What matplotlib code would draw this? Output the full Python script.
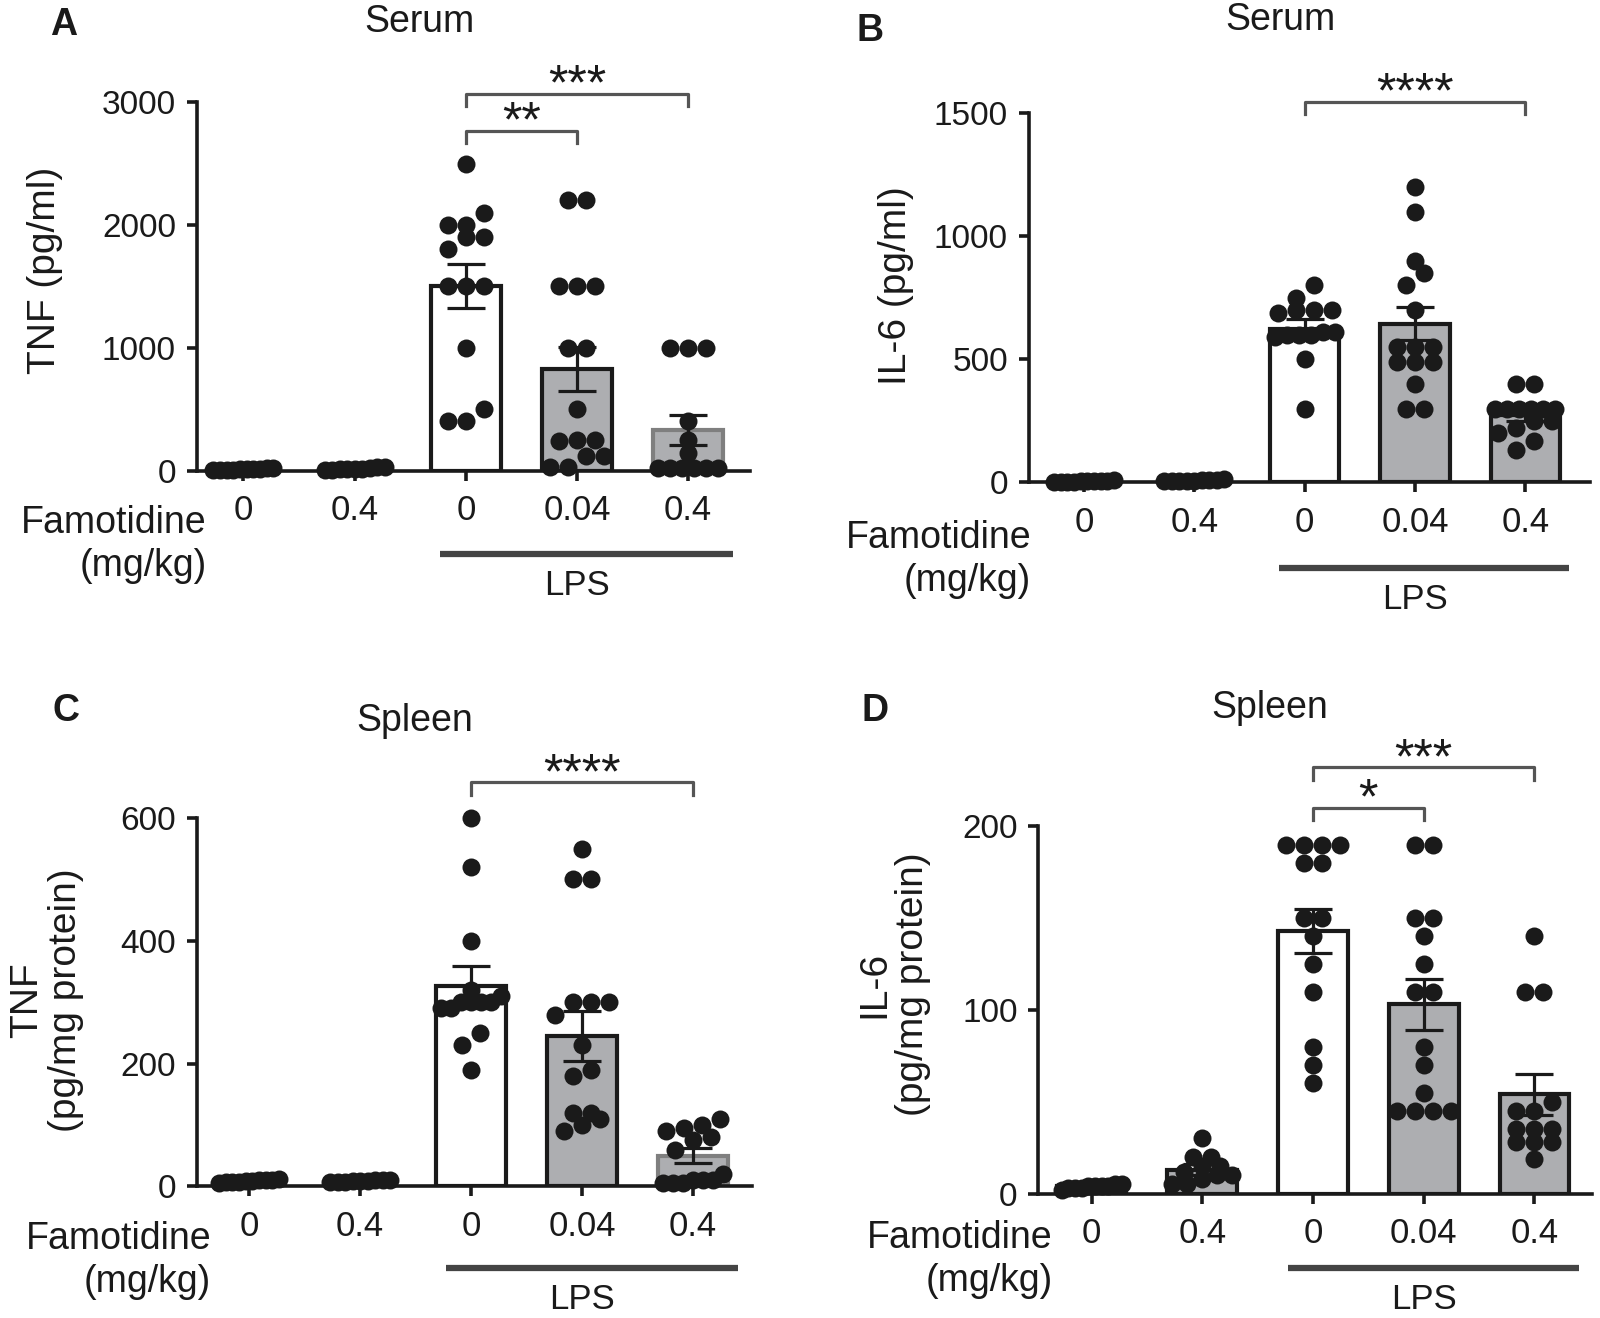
import numpy as np
import matplotlib.pyplot as plt
from matplotlib import transforms

plt.rcParams['font.family'] = ['Liberation Sans', 'DejaVu Sans']

dose_labels = ['0', '0.4', '0', '0.04', '0.4']

# A - serum TNF (pg/ml)
tnf_serum_pts = [
    [10, 5, 15, 8, 20, 12, 5, 10, 18, 6],
    [15, 10, 25, 5, 30, 12, 8, 20, 10],
    [2500, 2100, 2000, 2000, 1900, 1900, 1800, 1500, 1500, 1500, 1000, 500, 400, 400],
    [2200, 2200, 1500, 1500, 1500, 1000, 1000, 500, 250, 250, 240, 120, 120, 30, 30],
    [1000, 1000, 1000, 400, 250, 140, 20, 20, 20, 20, 20, 20],
]
tnf_serum_mean = [12, 15, 1500, 825, 330]
tnf_serum_sem = [2, 3, 180, 178, 122]

# B - serum IL-6 (pg/ml)
il6_serum_pts = [
    [3, 5, 2, 6, 4, 8, 3, 5, 2, 6],
    [5, 8, 4, 10, 6, 12, 5, 7, 9],
    [800, 750, 700, 700, 700, 690, 610, 610, 600, 600, 600, 590, 500, 300],
    [1200, 1100, 900, 850, 800, 700, 550, 550, 550, 490, 490, 490, 400, 300, 300],
    [400, 400, 300, 300, 300, 300, 300, 300, 250, 250, 220, 200, 170, 130],
]
il6_serum_mean = [5, 7, 625, 645, 272]
il6_serum_sem = [1, 1, 38, 68, 22]

# C - spleen TNF (pg/mg protein)
tnf_spleen_pts = [
    [8, 10, 6, 12, 9, 7, 11, 8, 10, 9],
    [9, 8, 10, 7, 9, 11, 8, 10, 9],
    [600, 520, 400, 320, 310, 300, 300, 300, 300, 290, 290, 250, 230, 190],
    [550, 500, 500, 300, 300, 300, 280, 230, 190, 180, 120, 120, 110, 100, 90],
    [110, 100, 95, 90, 80, 75, 60, 20, 10, 10, 10, 5, 5, 5],
]
tnf_spleen_mean = [9, 9, 327, 245, 50]
tnf_spleen_sem = [1, 1, 32, 40, 12]

# D - spleen IL-6 (pg/mg protein)
il6_spleen_pts = [
    [3, 4, 5, 3, 4, 2, 5, 4, 3, 4],
    [30, 20, 20, 15, 15, 12, 10, 10, 8, 5, 5],
    [190, 190, 190, 190, 180, 180, 150, 150, 140, 125, 110, 80, 70, 60],
    [190, 190, 150, 150, 140, 125, 110, 110, 80, 70, 55, 45, 45, 45, 45],
    [140, 110, 110, 50, 45, 45, 35, 35, 35, 28, 28, 28, 19],
]
il6_spleen_mean = [4, 13, 143, 103, 54]
il6_spleen_sem = [0.5, 3, 12, 14, 11]

# significance brackets: (from group, to group, height, label)
brackets_a = [(2, 3, 2767, '**'), (2, 4, 3066, '***')]
brackets_b = [(2, 4, 1545, '****')]
brackets_c = [(2, 4, 658, '****')]
brackets_d = [(2, 3, 210, '*'), (2, 4, 232, '***')]

INK = '#1a1a1a'
GRAY = '#adaeb1'
DOT_PX = 18


def swarm_x(ax, vals, center, dot_px=DOT_PX, half_px=30):
    # rows of near-equal values, spread evenly like prism scatter
    x0, x1 = ax.get_xlim()
    y0, y1 = ax.get_ylim()
    px_x = ax.bbox.width / (x1 - x0)
    px_y = ax.bbox.height / (y1 - y0)
    vals = np.asarray(vals, float)
    order = np.argsort(vals, kind='stable')
    rows = []
    for i in order:
        if rows and (vals[i] - vals[rows[-1][0]]) * px_y < 0.7 * dot_px:
            rows[-1].append(i)
        else:
            rows.append([i])
    xs = np.zeros(len(vals))
    for row in rows:
        n = len(row)
        step = dot_px if n < 2 else min(dot_px, 2 * half_px / (n - 1))
        xs[row] = center + (np.arange(n) - (n - 1) / 2) * step / px_x
    return xs


def draw_panel(ax, pts, means, sems, ylim, yticks, xlim, edge5, brackets,
               ylabel, ylab_xy, famo_xy, lps_y):
    x = np.arange(len(means))
    ax.set_xlim(*xlim)
    ax.set_ylim(*ylim)
    fills = ['white', GRAY, 'white', GRAY, GRAY]
    edges = [INK, INK, INK, INK, edge5]
    ax.bar(x, means, width=0.63, color=fills, edgecolor=edges, linewidth=3.0, zorder=2)
    for i, vals in enumerate(pts):
        xs = swarm_x(ax, vals, x[i])
        ax.scatter(xs, vals, s=(DOT_PX * 0.72) ** 2, color=INK, zorder=3,
                   linewidths=0, clip_on=False)
    ax.errorbar(x, means, yerr=sems, fmt='none', ecolor=INK, elinewidth=2.3,
                capsize=14, capthick=2.3, zorder=4)

    for s in ['top', 'right']:
        ax.spines[s].set_visible(False)
    for s in ['left', 'bottom']:
        ax.spines[s].set_linewidth(2.6)
        ax.spines[s].set_color(INK)
    ax.set_yticks(yticks)
    ax.set_xticks(x)
    ax.set_xticklabels(dose_labels, fontsize=25)
    ax.tick_params(axis='both', colors=INK, width=2.6, length=7, labelcolor=INK)
    ax.tick_params(axis='y', pad=8, labelsize=24)
    ax.tick_params(axis='x', pad=10)

    tip = (ylim[1] - ylim[0]) * 0.033
    for a, b, h, lab in brackets:
        ax.plot([a, a, b, b], [h - tip, h, h, h - tip], color='#555555', lw=2.3,
                clip_on=False, zorder=5)
        ax.annotate(lab, ((a + b) / 2, h), xytext=(0, -4), textcoords='offset points',
                    ha='center', va='baseline', fontsize=36, color=INK,
                    annotation_clip=False)

    ax.text(ylab_xy[0], ylab_xy[1], ylabel, transform=ax.transAxes, rotation=90,
            rotation_mode='anchor', ha='center', va='center', multialignment='center',
            fontsize=28, color=INK, linespacing=1.1)
    ax.text(famo_xy[0], famo_xy[1], 'Famotidine\n(mg/kg)', transform=ax.transAxes,
            ha='right', va='center', multialignment='right', fontsize=27, color=INK,
            linespacing=1.25)
    trans = transforms.blended_transform_factory(ax.transData, ax.transAxes)
    ax.plot([1.77, 4.40], [lps_y, lps_y], transform=trans, color='#444444', lw=4.5,
            solid_capstyle='butt', clip_on=False)
    ax.text(3.0, lps_y - 0.085, 'LPS', transform=trans, ha='center', va='center',
            fontsize=25, color=INK)


fig = plt.figure(figsize=(16, 13.18), dpi=100)

ax_a = fig.add_axes([0.123, 0.643, 0.346, 0.2795])
ax_b = fig.add_axes([0.643, 0.634, 0.351, 0.2802])
ax_c = fig.add_axes([0.123, 0.0998, 0.347, 0.2795])
ax_d = fig.add_axes([0.649, 0.0944, 0.346, 0.2787])

draw_panel(ax_a, tnf_serum_pts, tnf_serum_mean, tnf_serum_sem, (0, 3000),
           [0, 1000, 2000, 3000], (-0.42, 4.56), '#7f7f7f', brackets_a,
           'TNF (pg/ml)', (-0.275, 0.543), (0.018, -0.20), -0.227)
draw_panel(ax_b, il6_serum_pts, il6_serum_mean, il6_serum_sem, (0, 1500),
           [0, 500, 1000, 1500], (-0.50, 4.59), INK, brackets_b,
           'IL-6 (pg/ml)', (-0.237, 0.533), (0.004, -0.21), -0.232)
draw_panel(ax_c, tnf_spleen_pts, tnf_spleen_mean, tnf_spleen_sem, (0, 600),
           [0, 200, 400, 600], (-0.47, 4.53), '#7f7f7f', brackets_c,
           'TNF\n(pg/mg protein)', (-0.27, 0.507), (0.026, -0.20), -0.222)
draw_panel(ax_d, il6_spleen_pts, il6_spleen_mean, il6_spleen_sem, (0, 200),
           [0, 100, 200], (-0.48, 4.52), INK, brackets_d,
           'IL-6\n(pg/mg protein)', (-0.261, 0.57), (0.026, -0.18), -0.203)

titles = [('Serum', 0.262, 0.983), ('Serum', 0.800, 0.9845),
          ('Spleen', 0.259, 0.4528), ('Spleen', 0.7934, 0.4628)]
for t, tx, ty in titles:
    fig.text(tx, ty, t, ha='center', va='center', fontsize=27, color=INK)

letters = [('A', 0.0395, 0.9807), ('B', 0.544, 0.9768),
           ('C', 0.0415, 0.4605), ('D', 0.547, 0.4605)]
for t, tx, ty in letters:
    fig.text(tx, ty, t, ha='center', va='center', fontsize=27, fontweight='bold',
             color=INK)

fig.savefig('out.png', dpi=100)
